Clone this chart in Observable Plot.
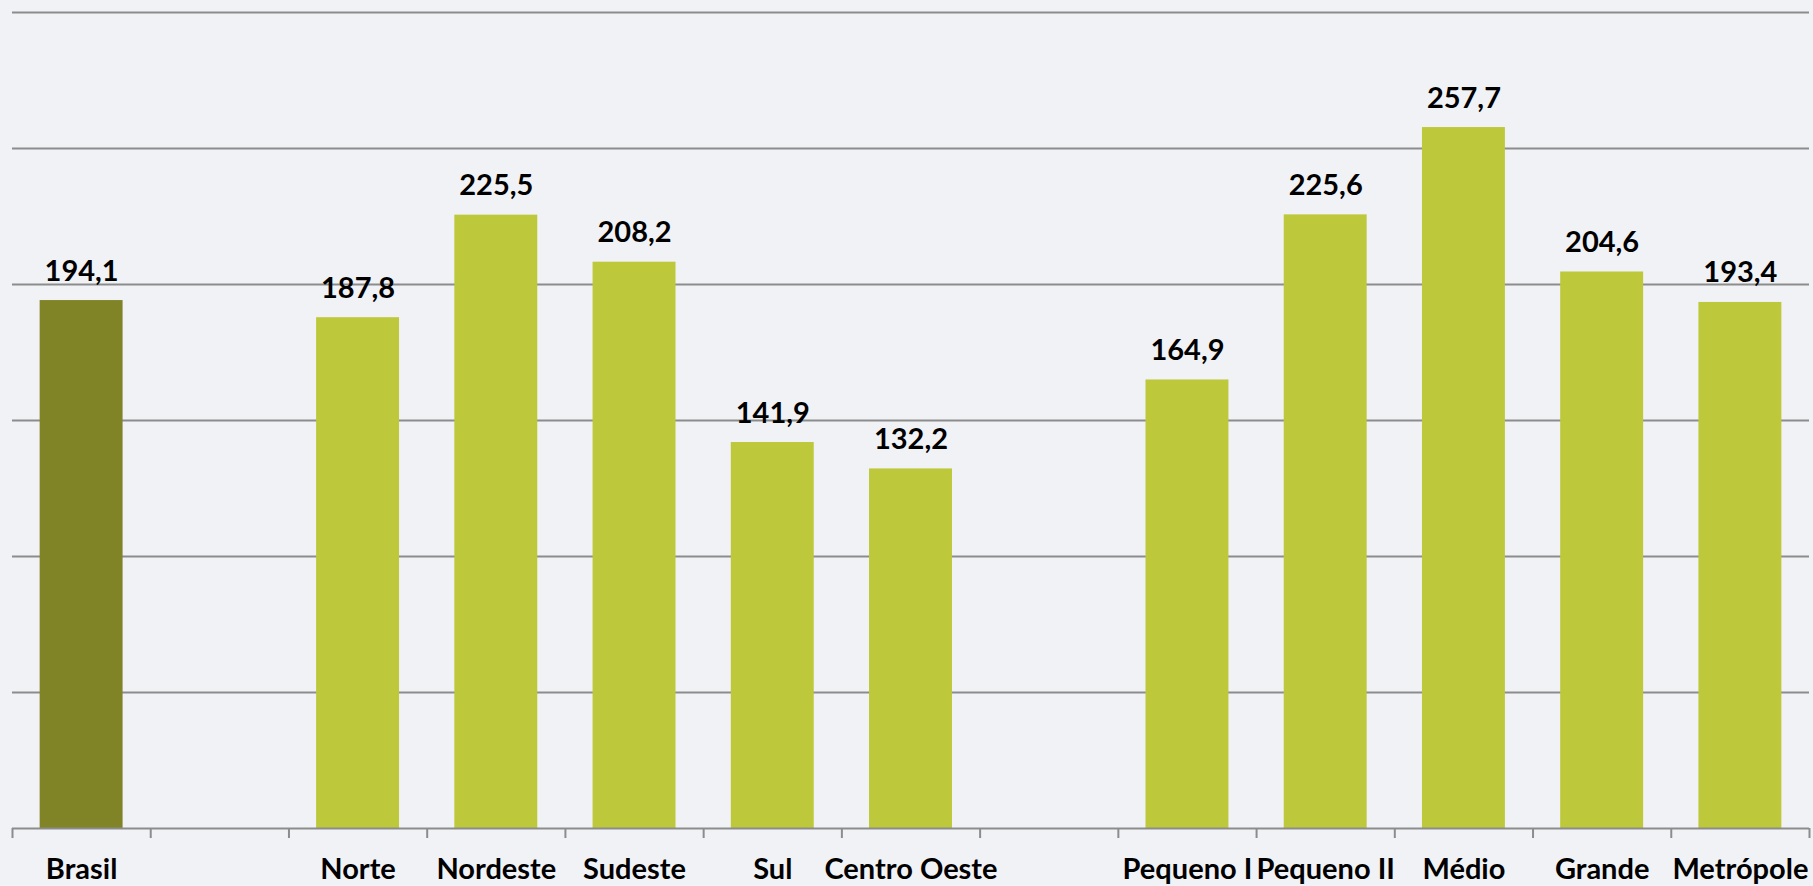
<!DOCTYPE html>
<html lang="pt-BR">
<head>
<meta charset="utf-8">
<title>Brasil, regiões e portes</title>
<script src="https://cdn.jsdelivr.net/npm/d3@7"></script>
<script src="https://cdn.jsdelivr.net/npm/@observablehq/plot@0.6"></script>
<style>
  html, body { margin: 0; padding: 0; background: #f1f2f6; overflow: hidden; }
  #chart svg { display: block; }
</style>
</head>
<body>
<div id="chart"></div>
<script>
// Categories along the x axis; empty strings are spacer slots between groups
const categorias = ["Brasil", "", "Norte", "Nordeste", "Sudeste", "Sul", "Centro Oeste", "",
  "Pequeno I", "Pequeno II", "Médio", "Grande", "Metrópole"];
const valores = [194.1, null, 187.8, 225.5, 208.2, 141.9, 132.2, null,
  164.9, 225.6, 257.7, 204.6, 193.4];
const destaques = ["Brasil"];
const gradeY = [50, 100, 150, 200, 250, 300];

const corDestaque = "#808426";
const corPadrao = "#bdc83a";
const corGrade = "#8c8c8c";

const dados = categorias
  .map((nome, i) => ({nome, i, valor: valores[i]}))
  .filter(d => d.valor != null);

const fmt = v => v.toFixed(1).replace(".", ",");

const chart = Plot.plot({
  width: 1813,
  height: 886,
  marginLeft: 12,
  marginRight: 4,
  marginTop: 12,
  marginBottom: 58,
  style: {
    background: "transparent",
    fontFamily: "Lato, 'Open Sans', sans-serif",
    fontSize: "29px",
    fontWeight: "700",
    color: "#000"
  },
  x: {domain: [0, categorias.length], label: null},
  y: {domain: [0, 300], label: null, axis: null},
  marks: [
    Plot.ruleY(gradeY, {stroke: corGrade, strokeWidth: 2, strokeOpacity: 1}),
    Plot.rectY(dados, {
      x1: d => d.i + 0.2,
      x2: d => d.i + 0.8,
      y: "valor",
      fill: d => destaques.includes(d.nome) ? corDestaque : corPadrao
    }),
    Plot.ruleY([0], {stroke: corGrade, strokeWidth: 2, strokeOpacity: 1}),
    // boundary ticks between category slots
    Plot.axisX({
      ticks: d3.range(categorias.length + 1),
      tickSize: 10,
      tickFormat: () => "",
      stroke: corGrade,
      strokeWidth: 2,
      strokeOpacity: 1
    }),
    // category names centred in each slot
    Plot.axisX({
      ticks: d3.range(categorias.length).map(i => i + 0.5),
      tickSize: 0,
      tickPadding: 30,
      tickFormat: t => categorias[Math.floor(t)],
      fill: "#000",
      fontSize: 29,
      fontWeight: "bold",
      label: null
    }),
    Plot.text(dados, {
      x: d => d.i + 0.5,
      y: "valor",
      text: d => fmt(d.valor),
      lineAnchor: "bottom",
      dy: -20,
      fill: "#000",
      fontSize: 29,
      fontWeight: "bold"
    })
  ]
});

document.getElementById("chart").append(chart);
</script>
</body>
</html>
